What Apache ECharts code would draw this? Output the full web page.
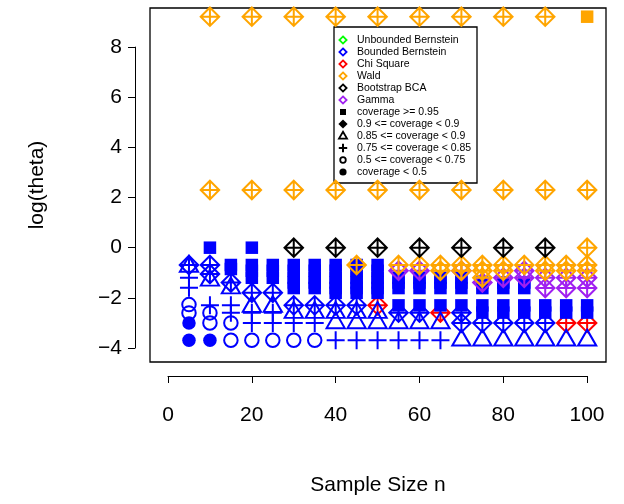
<!DOCTYPE html>
<html><head><meta charset="utf-8">
<script src="https://cdn.jsdelivr.net/npm/echarts@6/dist/echarts.min.js"></script>
<style>html,body{margin:0;padding:0;background:#fff}#c{width:624px;height:504px}</style>
</head><body><div id="c"></div>
<script>
// ---------- legend text ----------
const methodNames = ['Unbounded Bernstein','Bounded Bernstein','Chi Square','Wald','Bootstrap BCA','Gamma'];
const methodColors = ['#00FF00','#0000FF','#FF0000','#FFA500','#000000','#A020F0'];
const coverageLabels = ['coverage >= 0.95','0.9 <= coverage < 0.9','0.85 <= coverage < 0.9','0.75 <= coverage < 0.85','0.5 <= coverage < 0.75','coverage < 0.5'];
const xTicks = [0,20,40,60,80,100];
const yTicks = [-4,-2,0,2,4,6,8];

// ---------- points: [sample size n, log(theta)] ----------
// Bounded Bernstein (blue)
const bbSquare = [[10,0],[20,0],[15,-0.69],[15,-0.85],
  [20,-0.69],[20,-0.92],[20,-1.2],[25,-0.69],[25,-0.92],[25,-1.2],
  [30,-0.69],[30,-0.92],[30,-1.2],[30,-1.39],[30,-1.61],
  [35,-0.69],[35,-0.92],[35,-1.2],[35,-1.39],[35,-1.61],
  [40,-0.69],[40,-0.92],[40,-1.2],[40,-1.39],[40,-1.61],[40,-1.8],
  [45,-0.69],[45,-0.92],[45,-1.2],[45,-1.39],[45,-1.61],[45,-1.8],
  [50,-0.69],[50,-0.92],[50,-1.2],[50,-1.39],[50,-1.61],[50,-1.8],
  [55,-1.2],[55,-1.39],[55,-1.61],[55,-2.3],[60,-1.2],[60,-1.39],[60,-1.61],[60,-2.3],
  [65,-1.2],[65,-1.39],[65,-1.61],[65,-2.3],[70,-1.2],[70,-1.39],[70,-1.61],[70,-2.3],
  [75,-1.39],[75,-1.61],[75,-2.3],[75,-2.59],[80,-1.39],[80,-1.61],[80,-2.3],[80,-2.59],
  [85,-1.39],[85,-1.61],[85,-2.3],[85,-2.59],[90,-2.3],[90,-2.59],[95,-2.3],[95,-2.59],
  [100,-2.3],[100,-2.59]];
const bbDiamond = [[5,-0.69],[10,-0.69],[10,-1.05],[15,-1.39],[20,-1.8],[25,-1.8],
  [30,-2.3],[35,-2.3],[40,-2.3],[45,-2.3],[55,-2.59],[60,-2.59],[70,-2.59],
  [70,-3.0],[75,-3.0],[80,-3.0],[85,-3.0],[90,-3.0]];
const bbTriangle = [[5,-0.75],[10,-1.3],[15,-1.61],[20,-2.35],[25,-2.35],[30,-2.59],[35,-2.59],
  [40,-2.59],[40,-3.0],[45,-2.59],[45,-3.0],[50,-2.59],[50,-3.0],[55,-3.0],[60,-3.0],[65,-3.0],
  [70,-3.69],[75,-3.69],[80,-3.69],[85,-3.69],[90,-3.69],[95,-3.69],[100,-3.69]];
const bbPlus = [[5,-1.2],[5,-1.6],[10,-2.3],[15,-2.3],[15,-2.59],[20,-2.59],[20,-3.0],
  [25,-2.59],[25,-3.0],[30,-3.0],[35,-3.0],[40,-3.69],[45,-3.69],[50,-3.69],
  [55,-3.69],[60,-3.69],[65,-3.69]];
const bbCircle = [[5,-2.27],[5,-2.6],[10,-2.6],[10,-3.0],[15,-3.0],[15,-3.69],
  [20,-3.69],[25,-3.69],[30,-3.69],[35,-3.69]];
const bbFilled = [[5,-3.0],[5,-3.69],[10,-3.69]];
// Chi Square (red)
const csDiamond = [[50,-2.3],[65,-2.59],[95,-3.0],[100,-3.0]];
// Gamma (purple)
const gaDiamond = [[55,-0.92],[60,-0.92],[70,-0.92],[75,-1.39],[80,-1.2],[85,-0.92],[85,-1.2],
  [90,-1.2],[90,-1.61],[95,-1.2],[95,-1.61],[100,-1.2],[100,-1.61]];
// Wald (orange)
const waDiamond = [[10,9.21],[20,9.21],[30,9.21],[40,9.21],[50,9.21],[60,9.21],[70,9.21],[80,9.21],[90,9.21],
  [10,2.3],[20,2.3],[30,2.3],[40,2.3],[50,2.3],[60,2.3],[70,2.3],[80,2.3],[90,2.3],[100,2.3],
  [100,0],[45,-0.69],[55,-0.69],[60,-0.69],[65,-0.69],[65,-0.92],[70,-0.69],[70,-0.92],
  [75,-0.69],[75,-0.92],[75,-1.2],[80,-0.69],[80,-0.92],[85,-0.69],[90,-0.69],[90,-0.92],
  [95,-0.69],[95,-0.92],[100,-0.69],[100,-0.92]];
const waSquare = [[100,9.21]];
// Bootstrap BCA (black)
const bcDiamond = [[30,0],[40,0],[50,0],[60,0],[70,0],[80,0],[90,0]];

const SH = {
  sq: {symbol:'rect', size:12.5, fill:true},
  dm: {symbol:'path://M0,-1L1,0L0,1L-1,0Z M0,-1L0,1 M-1,0L1,0', size:18.5, fill:false},
  tr: {symbol:'path://M0,-10.5L9.1,5.25L-9.1,5.25Z', size:[18.2,15.75], offset:[0,-2.6], fill:false},
  pl: {symbol:'path://M0,-1L0,1M-1,0L1,0', size:18, fill:false},
  ci: {symbol:'circle', size:13.5, fill:false},
  fc: {symbol:'circle', size:13.5, fill:true}
};
function mk(name, data, key, color){
  const s = SH[key];
  return {
    type:'scatter', name:name, xAxisIndex:0, yAxisIndex:0, data:data,
    symbol:s.symbol, symbolSize:s.size, symbolOffset:s.offset||[0,0],
    silent:true, animation:false,
    itemStyle: s.fill ? {color:color, borderWidth:0, opacity:1}
                      : {color:'rgba(0,0,0,0)', borderColor:color, borderWidth:2, opacity:1}
  };
}
const series = [
  mk('Chi Square', csDiamond, 'dm', methodColors[2]),
  mk('Bounded Bernstein sq', bbSquare, 'sq', methodColors[1]),
  mk('Bounded Bernstein fc', bbFilled, 'fc', methodColors[1]),
  mk('Bounded Bernstein ci', bbCircle, 'ci', methodColors[1]),
  mk('Bounded Bernstein pl', bbPlus, 'pl', methodColors[1]),
  mk('Bounded Bernstein tr', bbTriangle, 'tr', methodColors[1]),
  mk('Bounded Bernstein dm', bbDiamond, 'dm', methodColors[1]),
  mk('Gamma', gaDiamond, 'dm', methodColors[5]),
  mk('Wald dm', waDiamond, 'dm', methodColors[3]),
  mk('Wald sq', waSquare, 'sq', methodColors[3]),
  mk('Bootstrap BCA', bcDiamond, 'dm', methodColors[4])
];

// ---------- legend drawn as graphic ----------
const LX = 334, LY = 27, LW = 143, LH = 156, L0 = 40, LS = 12, SX = 343, TX = 357;
const lg = [{type:'rect', shape:{x:LX, y:LY, width:LW, height:LH},
  style:{fill:'#fff', stroke:'#000', lineWidth:1.3}}];
methodNames.forEach((nm,i)=>{
  const y = L0 + i*LS;
  lg.push({type:'polygon', shape:{points:[[SX,y-3.6],[SX+3.6,y],[SX,y+3.6],[SX-3.6,y]]},
    style:{fill:'none', stroke:methodColors[i], lineWidth:1.8}});
  lg.push({type:'text', x:TX, y:y, style:{text:nm, fill:'#000', font:'10.5px "Liberation Sans", Arial, sans-serif', verticalAlign:'middle'}});
});
coverageLabels.forEach((nm,j)=>{
  const y = L0 + (6+j)*LS;
  if (j===0) lg.push({type:'rect', shape:{x:SX-3, y:y-3, width:6, height:6}, style:{fill:'#000'}});
  if (j===1) lg.push({type:'polygon', shape:{points:[[SX,y-4.6],[SX+4.6,y],[SX,y+4.6],[SX-4.6,y]]}, style:{fill:'#000'}});
  if (j===2) lg.push({type:'polygon', shape:{points:[[SX,y-4.2],[SX+4,y+2.6],[SX-4,y+2.6]]}, style:{fill:'none', stroke:'#000', lineWidth:1.8}});
  if (j===3) { lg.push({type:'line', shape:{x1:SX-4.2,y1:y,x2:SX+4.2,y2:y}, style:{stroke:'#000', lineWidth:2}});
               lg.push({type:'line', shape:{x1:SX,y1:y-4.2,x2:SX,y2:y+4.2}, style:{stroke:'#000', lineWidth:2}}); }
  if (j===4) lg.push({type:'circle', shape:{cx:SX, cy:y, r:2.8}, style:{fill:'none', stroke:'#000', lineWidth:1.8}});
  if (j===5) lg.push({type:'circle', shape:{cx:SX, cy:y, r:3.6}, style:{fill:'#000'}});
  lg.push({type:'text', x:TX, y:y, style:{text:nm, fill:'#000', font:'10.5px "Liberation Sans", Arial, sans-serif', verticalAlign:'middle'}});
});

const FONT = '"Liberation Sans", Arial, sans-serif';
const minus = v => v < 0 ? '\u2212' + (-v) : String(v);
const chart = echarts.init(document.getElementById('c'), null, {renderer:'canvas'});
chart.setOption({
  animation:false,
  backgroundColor:'#fff',
  grid:[
    {left:150, top:8, width:456, height:354, show:true, borderColor:'#000', borderWidth:1.3, backgroundColor:'rgba(0,0,0,0)'},
    {left:168, top:47.1, width:419, height:300.9, show:false}
  ],
  xAxis:[
    {gridIndex:0, type:'value', min:-4.3, max:104.5, axisLine:{show:false}, axisTick:{show:false}, axisLabel:{show:false}, splitLine:{show:false},
     name:'Sample Size n', nameLocation:'middle', nameGap:113, nameTextStyle:{fontFamily:FONT, fontSize:21, color:'#000'}},
    {gridIndex:1, type:'value', min:0, max:100, interval:20, offset:28,
     axisLine:{show:true, onZero:false, lineStyle:{color:'#000', width:1}}, axisTick:{show:true, length:7, lineStyle:{color:'#000'}},
     axisLabel:{margin:29, fontFamily:FONT, fontSize:21, color:'#000', formatter:minus}, splitLine:{show:false}}
  ],
  yAxis:[
    {gridIndex:0, type:'value', min:-4.558, max:9.557, axisLine:{show:false}, axisTick:{show:false}, axisLabel:{show:false}, splitLine:{show:false},
     name:'log(theta)', nameLocation:'middle', nameGap:102, nameRotate:90, nameTextStyle:{fontFamily:FONT, fontSize:21, color:'#000'}},
    {gridIndex:1, type:'value', min:-4, max:8, interval:2, offset:33,
     axisLine:{show:true, onZero:false, lineStyle:{color:'#000', width:1}}, axisTick:{show:true, length:7, lineStyle:{color:'#000'}},
     axisLabel:{margin:13, fontFamily:FONT, fontSize:21, color:'#000', formatter:minus}, splitLine:{show:false}}
  ],
  series: series,
  graphic: {elements:[{type:'group', z:100, children:lg}]}
});
</script></body></html>
